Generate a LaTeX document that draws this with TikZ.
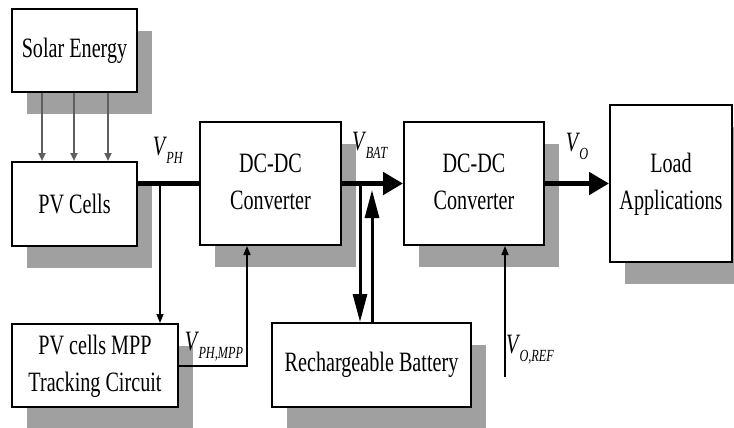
\documentclass[tikz,border=0pt]{standalone}
\usepackage{fontspec}
\setmainfont{Liberation Serif}
\newfontfamily\tnr{Liberation Serif}
\usetikzlibrary{arrows.meta,shadows}
\definecolor{shade}{RGB}{160,160,160}
\definecolor{raygray}{RGB}{95,95,95}
\newcommand{\nx}[1]{\scalebox{0.72}[1]{#1}}
\newcommand{\lbl}[2]{\nx{\textit{#1}\kern-1pt\raisebox{-0.28em}{\fontsize{17}{17}\selectfont\textit{#2}}}}
\begin{document}
\begin{tikzpicture}[x=1pt,y=-1pt,
  every node/.style={font=\tnr\fontsize{28}{37}\selectfont},
  box/.style={draw,line width=2pt,fill=white,inner sep=0pt,
    drop shadow={shadow xshift=15pt,shadow yshift=-22pt,fill=shade,opacity=1}},
  bus/.style={line width=5pt},
  thin/.style={line width=1.5pt,-{Triangle[length=9pt,width=7pt]}},
  ray/.style={line width=2pt,draw=raygray,-{Triangle[length=8pt,width=7pt]}},
  bigtip/.style={-{Triangle[length=20pt,width=22pt]}},
  vtip/.style={line width=3pt,-{Triangle[length=28pt,width=14pt]}},
  lab/.style={inner sep=0pt}]
\useasboundingbox (0,0) rectangle (734,428);
\fill[white] (0,0) rectangle (734,428);
% boxes
\node[box,minimum width=125pt,minimum height=83pt] (solar) at (74.5,50.5) {\nx{Solar Energy}};
\node[box,minimum width=125pt,minimum height=84pt] (pv) at (74.5,204) {\nx{PV Cells}};
\node[box,minimum width=141pt,minimum height=123pt] (dc1) at (270.5,183.5)
  {\nx{\begin{tabular}{@{}c@{}}DC-DC\\Converter\end{tabular}}};
\node[box,minimum width=140pt,minimum height=123pt] (dc2) at (474,183.5)
  {\nx{\begin{tabular}{@{}c@{}}DC-DC\\Converter\end{tabular}}};
\node[box,minimum width=122pt,minimum height=157pt] (load) at (671,183.5)
  {\nx{\begin{tabular}{@{}c@{}}Load\\Applications\end{tabular}}};
\node[box,minimum width=166pt,minimum height=83pt] (mpp) at (95,365.5)
  {\nx{\begin{tabular}{@{}c@{}}PV cells MPP\\Tracking Circuit\end{tabular}}};
\node[box,minimum width=199pt,minimum height=84pt] (bat) at (371.5,365) {\nx{Rechargeable Battery}};
% rays from solar energy
\draw[ray] (solar.south -| 42,0) -- (pv.north -| 42,0);
\draw[ray] (solar.south -| 74,0) -- (pv.north -| 74,0);
\draw[ray] (solar.south -| 108,0) -- (pv.north -| 108,0);
% V_PH bus
\coordinate (jph) at (160,183.5);
\draw[bus] (pv.east |- jph) -- (dc1.west);
\draw[thin] (jph) -- (jph |- mpp.north);
% V_PH,MPP feedback
\coordinate (cmpp) at (247,366);
\draw[thin] (mpp.east |- cmpp) -- (cmpp) -- (cmpp |- dc1.south);
% V_BAT bus
\draw[bus,bigtip] (dc1.east) -- (dc2.west);
\coordinate (jdn) at (360,183.5);
\coordinate (jup) at (372,190);
\draw[vtip] (jdn) -- (jdn |- bat.north);
\draw[vtip] (jup |- bat.north) -- (jup);
% V_O
\draw[bus,bigtip] (dc2.east) -- (load.west);
% V_O,REF
\coordinate (oref) at (505,377);
\draw[thin] (oref) -- (oref |- dc2.south);
% labels
\node[lab] (lph) at (168,150) {\lbl{V}{PH}};
\node[lab] (lbat) at (370,145) {\lbl{V}{BAT}};
\node[lab] (lo) at (577,146) {\lbl{V}{O}};
\node[lab] (lphmpp) at (214,347) {\lbl{V}{PH,MPP}};
\node[lab] (loref) at (530,350) {\lbl{V}{O,REF}};
\end{tikzpicture}
\end{document}
